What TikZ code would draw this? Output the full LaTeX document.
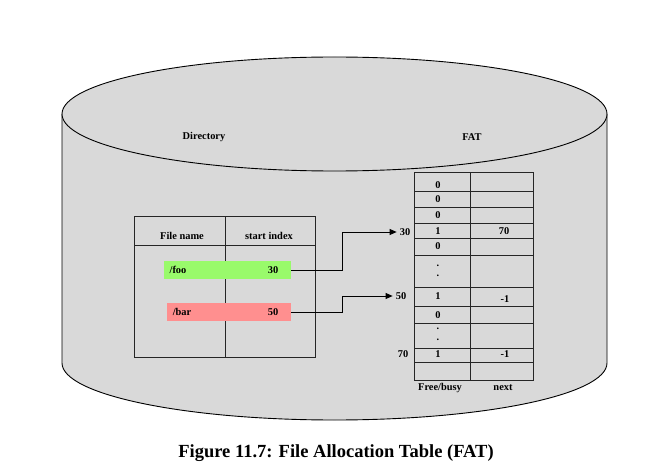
\documentclass[tikz,border=0pt]{standalone}
\usepackage{fontspec}
\setmainfont{Liberation Serif}
\usetikzlibrary{arrows.meta}
\definecolor{cylgray}{RGB}{217,217,217}
\definecolor{foogreen}{RGB}{153,250,107}
\definecolor{barred}{RGB}{255,143,143}
\begin{document}
\begin{tikzpicture}[x=1pt,y=-1pt,
  lbl/.style={font=\fontsize{10.4}{12}\selectfont\bfseries, inner sep=0pt},
  edgeline/.style={draw=black, line width=0.9pt},
  tblline/.style={draw=black!85, line width=1pt},
  bar/.style={minimum width=127pt, minimum height=18pt, inner sep=0pt},
  link/.style={draw=black, line width=0.8pt, -{Triangle[length=7pt,width=6pt]}}]
\useasboundingbox (0,0) rectangle (656,473);
% cylinder body
\fill[cylgray] (62,114) -- (62,363) arc[start angle=180,end angle=360,x radius=272.5pt,y radius=57pt] -- (607,114) -- cycle;
\draw[edgeline] (62,114) -- (62,363) arc[start angle=180,end angle=360,x radius=272.5pt,y radius=57pt] -- (607,114);
\filldraw[fill=cylgray, edgeline] (334.5,114) ellipse [x radius=272.5pt, y radius=57pt];
% labels
\node[lbl] (dirlbl) at (204,137) {Directory};
\node[lbl] (fatlbl) at (472,137) {FAT};
% directory table
\draw[tblline] (134,217) rectangle (315,357);
\draw[tblline] (134,246) -- (315,246);
\draw[tblline] (225,217) -- (225,357);
\node[lbl] (hname) at (182,236) {File name};
\node[lbl] (hstart) at (269,236) {start index};
\node[bar, fill=foogreen] (foo) at (227.5,270) {};
\node[bar, fill=barred, minimum width=124pt] (bar) at (229,312) {};
\node[lbl] (footxt) at (178,270) {/foo};
\node[lbl] (foonum) at (273,270) {30};
\node[lbl] (bartxt) at (182,312) {/bar};
\node[lbl] (barnum) at (273,312) {50};
% FAT table
\draw[tblline] (414,173) rectangle (533,380);
\draw[tblline] (470,173) -- (470,380);
\foreach \yy in {192,208,224,239,256,287,306,323,348,362}
  \draw[tblline] (414,\yy) -- (533,\yy);
\node[lbl] (c1) at (438,185) {0};
\node[lbl] (c2) at (438,199) {0};
\node[lbl] (c3) at (438,215) {0};
\node[lbl] (c4) at (438,231) {1};
\node[lbl] (n4) at (504,231) {70};
\node[lbl] (c5) at (438,246) {0};
\node[lbl] (d1) at (438,266) {.};
\node[lbl] (d2) at (438,276) {.};
\node[lbl] (c7) at (438,296) {1};
\node[lbl] (n7) at (505,299) {-1};
\node[lbl] (c8) at (438,315) {0};
\node[lbl] (d3) at (438,329) {.};
\node[lbl] (d4) at (438,340) {.};
\node[lbl] (c10) at (438,354) {1};
\node[lbl] (n10) at (505,354) {-1};
\node[lbl] (l30) at (405,232) {30};
\node[lbl] (l50) at (401,296) {50};
\node[lbl] (l70) at (403,354) {70};
\node[lbl] (fb) at (440,388) {Free/busy};
\node[lbl] (nx) at (503,388) {next};
% connectors
\coordinate (b1) at (342,270);
\coordinate (b2) at (342,312);
\draw[link] (foo.east) -- (b1) |- ([xshift=-3pt]l30.west);
\draw[link] (bar.east) -- (b2) |- ([xshift=-3pt]l50.west);
% caption
\node[font=\fontsize{18.5}{22}\selectfont\bfseries, inner sep=0pt] (cap) at (336,453) {Figure 11.7: File Allocation Table (FAT)};
\end{tikzpicture}
\end{document}
